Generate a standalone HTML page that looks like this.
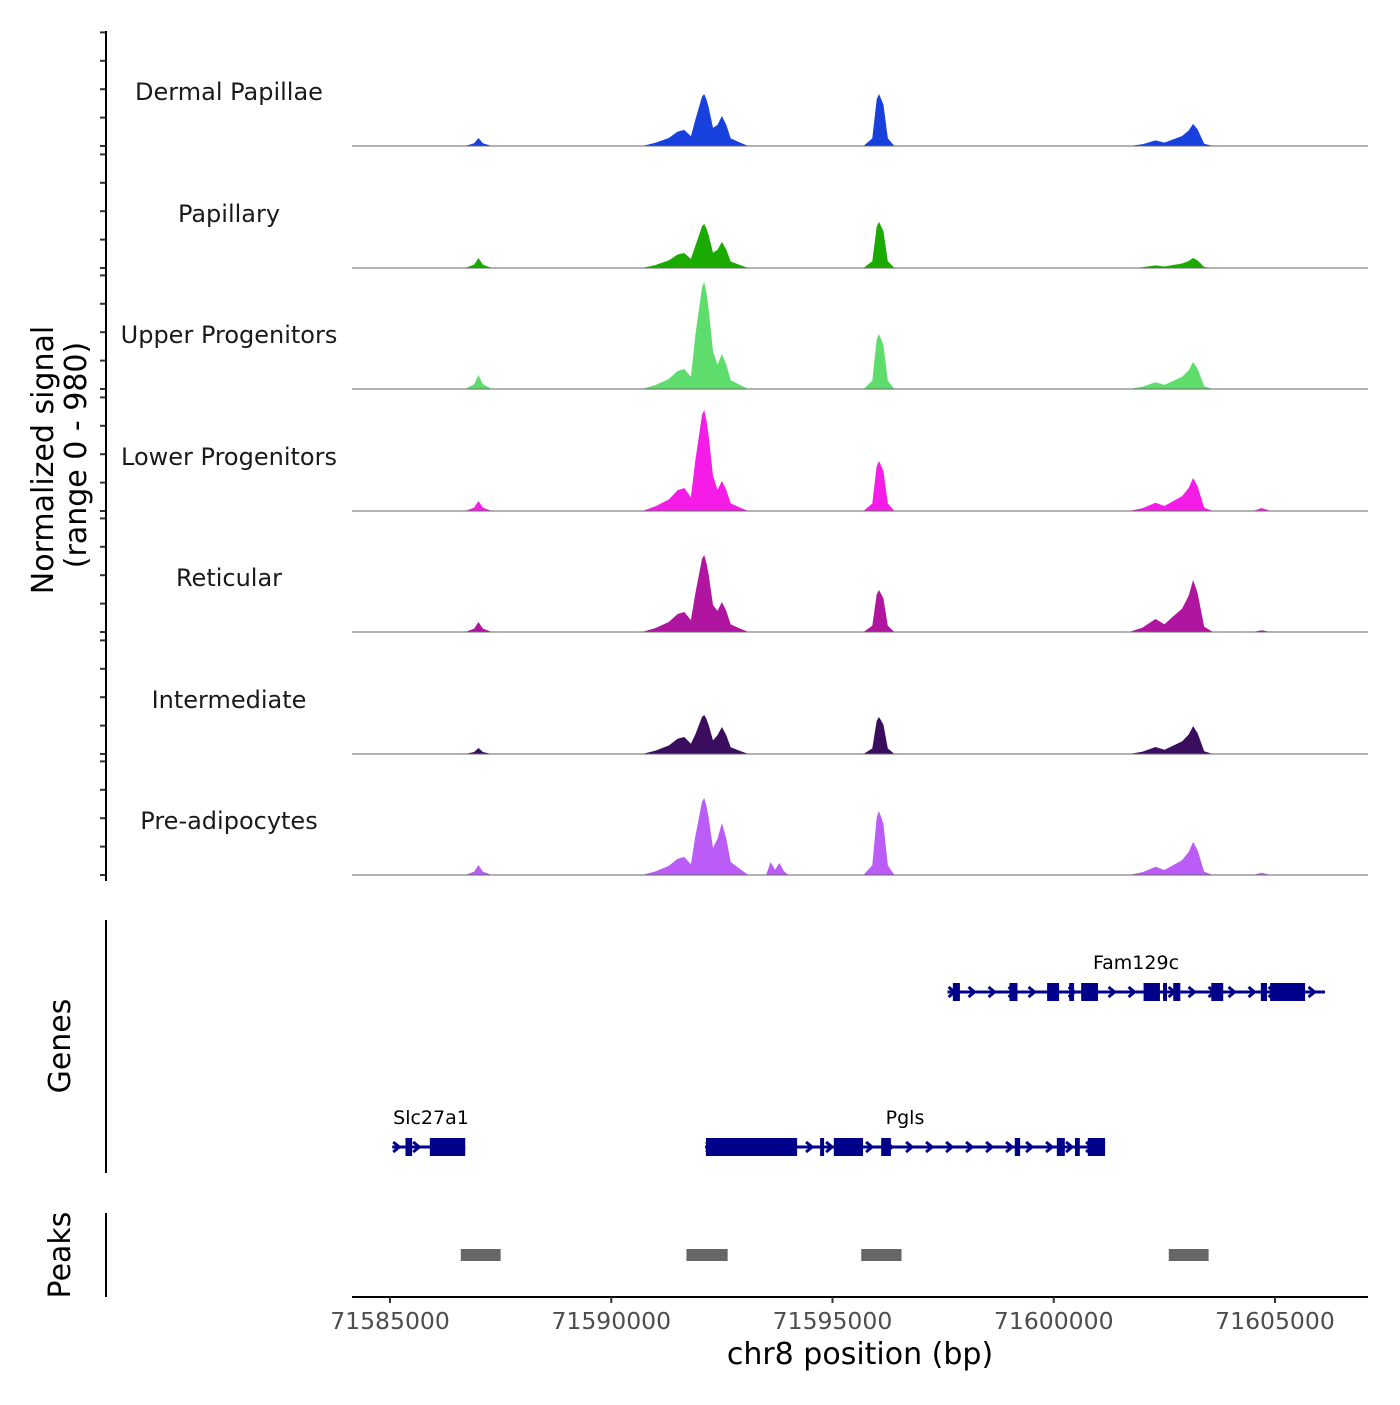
<!DOCTYPE html>
<html><head><meta charset="utf-8"><style>
body{margin:0;background:#fff}
svg text{font-family:"DejaVu Sans","Liberation Sans",sans-serif}
</style></head><body>
<svg id="c" width="1400" height="1400" viewBox="0 0 1400 1400" xmlns="http://www.w3.org/2000/svg">
<g id="tracks"></g>
<g id="genes"></g>
<g id="peaks"></g>
<g id="axes"></g>
</svg>
<script>
const positions=[71584200,
71586700,71586900,71587000,71587100,71587300,
71590700,71591000,71591300,71591500,71591650,71591800,71591900,71592000,71592050,71592100,71592150,71592200,71592300,71592400,71592500,71592600,71592700,71592900,71593100,
71593500,71593600,71593700,71593800,71593900,71594000,
71595700,71595900,71596000,71596050,71596150,71596250,71596400,
71601700,71602000,71602300,71602500,71602700,71602900,71603050,71603150,71603250,71603400,71603600,
71604500,71604700,71604900,71607100];
const trackNames=["Dermal Papillae","Papillary","Upper Progenitors","Lower Progenitors","Reticular","Intermediate","Pre-adipocytes"];
const trackColors=["#1740DD","#1AAA00","#5EDC6C","#F51CE8","#B0159F","#3A0D5E","#BC5CF7"];
const dermalPapillae=[0, 0,23,69,23,0, 0,28,69,124,138,83,224,358,425,447,402,335,156,181,258,181,65,31,0, 0,0,0,0,0,0, 0,67,402,447,358,67,0, 0,15,48,29,57,86,133,190,143,19,0, 0,0,0,0];
const papillary=[0, 0,29,86,29,0, 0,26,65,116,129,77,189,302,359,378,340,284,132,157,224,157,56,27,0, 0,0,0,0,0,0, 0,59,356,396,317,59,0, 0,7,22,13,26,39,60,86,65,9,0, 0,0,0,0];
const upperProgenitors=[0, 0,40,120,40,0, 0,34,86,155,172,103,460,736,874,920,828,690,322,210,300,210,75,36,0, 0,0,0,0,0,0, 0,71,426,473,378,71,0, 0,19,58,35,70,104,162,232,174,23,0, 0,0,0,0];
const lowerProgenitors=[0, 0,29,86,29,0, 0,40,99,178,198,119,434,694,825,868,781,651,304,181,258,181,65,31,0, 0,0,0,0,0,0, 0,65,387,430,344,65,0, 0,23,71,43,85,128,199,284,213,28,0, 0,26,0,0];
const reticular=[0, 0,29,86,29,0, 0,34,86,155,172,103,331,530,629,662,596,497,232,181,258,181,65,31,0, 0,0,0,0,0,0, 0,54,325,361,289,54,0, 0,36,112,67,134,201,313,447,335,45,0, 0,15,0,0];
const intermediate=[0, 0,17,52,17,0, 0,29,73,131,146,88,168,268,318,335,302,251,117,162,232,162,58,28,0, 0,0,0,0,0,0, 0,48,286,318,254,48,0, 0,19,60,36,72,108,168,240,180,24,0, 0,0,0,0];
const preAdipocytes=[0, 0,29,86,29,0, 0,31,78,140,155,93,331,530,629,662,596,497,232,313,447,313,112,54,0, 0,112,45,103,34,0, 0,83,495,550,440,83,0, 0,23,71,43,85,128,199,284,213,28,0, 0,20,0,0];
const seriesValues=[dermalPapillae,papillary,upperProgenitors,lowerProgenitors,reticular,intermediate,preAdipocytes];
const xTicks=[71585000,71590000,71595000,71600000,71605000];
const peakStarts=[71586600,71591700,71595650,71602600];
const peakEnds=[71587500,71592630,71596560,71603500];
const geneNames=["Fam129c","Slc27a1","Pgls"];
const geneStarts=[71597600,71585050,71592120];
const geneEnds=[71606130,71586700,71601160];
const geneRows=[0,1,1];
const fam129cExons=[[71597720,71597880],[71599000,71599180],[71599850,71600120],[71600350,71600460],[71600620,71601000],[71602030,71602400],[71602470,71602560],[71602700,71602860],[71603560,71603830],[71604680,71604820],[71604890,71605680]];
const slc27a1Exons=[[71585350,71585500],[71585900,71586700]];
const pglsExons=[[71592140,71594200],[71594720,71594810],[71595030,71595690],[71596100,71596320],[71599120,71599240],[71600070,71600250],[71600480,71600590],[71600770,71601160]];
const geneExons=[fam129cExons,slc27a1Exons,pglsExons];

const NS="http://www.w3.org/2000/svg";
function mk(tag,attrs,parent){const e=document.createElementNS(NS,tag);for(const k in attrs)e.setAttribute(k,attrs[k]);parent.appendChild(e);return e;}
const X0=352,X1=1368,BP0=71584141,BP1=71607102;
function xs(bp){return X0+(bp-BP0)/(BP1-BP0)*(X1-X0);}
const baselines=[146,268,389,511,632,754,875];
function ys(v,i){return baselines[i]-v/980*114;}
const tracks=document.getElementById('tracks');
seriesValues.forEach((vals,i)=>{
  let d="M"+xs(positions[0])+","+baselines[i];
  positions.forEach((p,j)=>{d+=" L"+xs(p).toFixed(1)+","+ys(vals[j],i).toFixed(1);});
  d+=" L"+xs(positions[positions.length-1])+","+baselines[i]+" Z";
  const a=mk('path',{d:d,fill:trackColors[i]},tracks);
  
  
  const b=mk('line',{x1:X0,x2:X1,y1:baselines[i],y2:baselines[i],stroke:'#666',"stroke-width":1},tracks);
  
  
  const t=mk('text',{x:229,y:baselines[i]-46,"text-anchor":"middle","font-size":24,fill:'#1a1a1a'},tracks);
  t.textContent=trackNames[i];
  
  
  for(let k=0;k<5;k++){
    const tk=mk('line',{x1:100,x2:106,y1:baselines[i]-k*28.4,y2:baselines[i]-k*28.4,stroke:'#333',"stroke-width":2},tracks);
    
    
  }
});
const axes=document.getElementById('axes');
function L(x1,y1,x2,y2,name,w,c){const l=mk('line',{x1,y1,x2,y2,stroke:c||'#000',"stroke-width":w||2},axes);return l;}
function T(x,y,s,txt,name,opts){const t=mk('text',Object.assign({x,y,"font-size":s,"text-anchor":"middle",fill:'#000'},opts||{}),axes);t.textContent=txt;return t;}
L(106,31,106,881,'signal-y-axis');
L(106,920,106,1173,'genes-y-axis');
L(106,1213,106,1297,'peaks-y-axis');
L(352,1297,1368,1297,'x-axis');
xTicks.forEach(v=>{L(xs(v),1297,xs(v),1303,'x-tick',2,'#333');T(xs(v),1329,23.5,String(v),'x-tick-label',{fill:'#4d4d4d'});});
T(860,1364,30,'chr8 position (bp)','x-axis-title');
T(0,0,30,'Normalized signal','y-axis-title',{transform:'translate(53,460) rotate(-90)'});
T(0,0,30,'(range 0 - 980)','y-axis-subtitle',{transform:'translate(86,455) rotate(-90)'});
T(0,0,30,'Genes','genes-axis-title',{transform:'translate(70,1046) rotate(-90)'});
T(0,0,30,'Peaks','peaks-axis-title',{transform:'translate(70,1255) rotate(-90)'});
const genes=document.getElementById('genes');
const rowY=[992,1147];
const navy='#00008B';
geneNames.forEach((g,i)=>{
  const y=rowY[geneRows[i]];
  const x1=xs(geneStarts[i]),x2=xs(geneEnds[i]);
  const ln=mk('line',{x1:x1,x2:x2,y1:y,y2:y,stroke:navy,"stroke-width":3},genes);
  
  
  for(let x=x1+4;x<x2-2;x+=20){
    const ar=mk('polyline',{points:(x-3)+","+(y-5)+" "+(x+3)+","+y+" "+(x-3)+","+(y+5),fill:'none',stroke:navy,"stroke-width":3},genes);
    
    
  }
  geneExons[i].forEach(ex=>{
    const r=mk('rect',{x:xs(ex[0]),y:y-9,width:Math.max(3,xs(ex[1])-xs(ex[0])),height:18,fill:navy},genes);
    
    
  });
  const t=mk('text',{x:i==1?431:(i==0?1136:905),y:y-23,"font-size":19,"text-anchor":"middle",fill:'#000'},genes);
  t.textContent=g;
  
  
});
const peaks=document.getElementById('peaks');
peakStarts.forEach((s,i)=>{
  const r=mk('rect',{x:xs(s),y:1249,width:xs(peakEnds[i])-xs(s),height:12,fill:'#666'},peaks);
  
  
});
</script>
</body></html>
